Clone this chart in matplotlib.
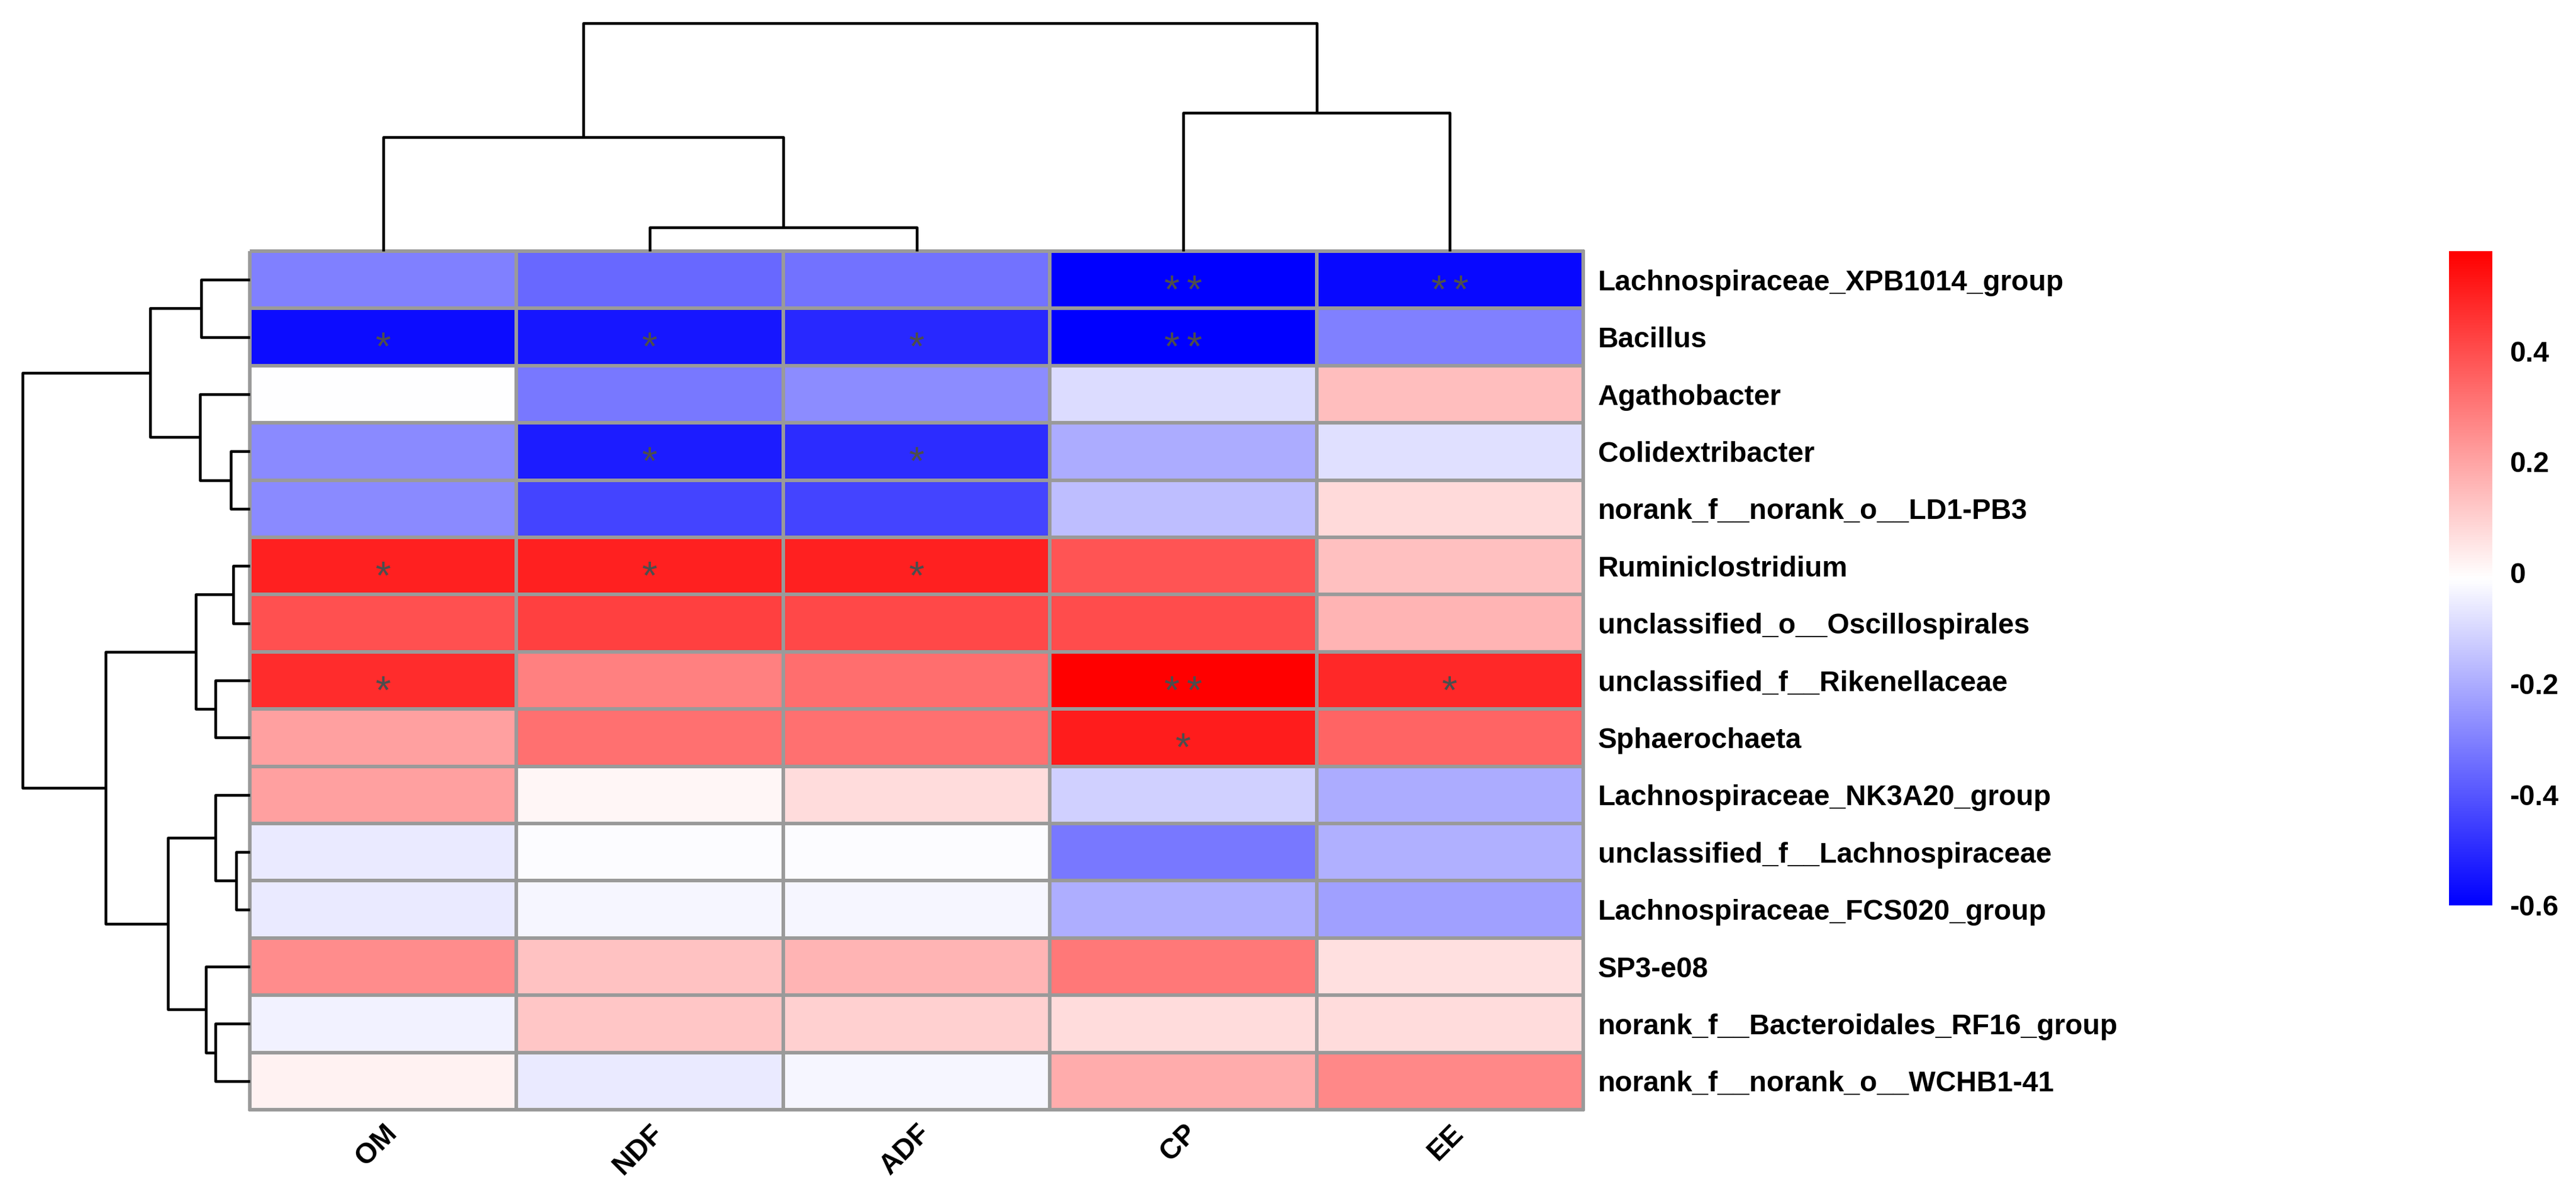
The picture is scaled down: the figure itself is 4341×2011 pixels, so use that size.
import numpy as np
import matplotlib
matplotlib.use('Agg')
import matplotlib.pyplot as plt
from matplotlib.colors import LinearSegmentedColormap, Normalize
from matplotlib.cm import ScalarMappable

plt.rcParams['font.family'] = ['Liberation Sans', 'DejaVu Sans']
plt.rcParams['font.weight'] = 'bold'

genera = ['Lachnospiraceae_XPB1014_group', 'Bacillus', 'Agathobacter',
          'Colidextribacter', 'norank_f__norank_o__LD1-PB3', 'Ruminiclostridium',
          'unclassified_o__Oscillospirales', 'unclassified_f__Rikenellaceae',
          'Sphaerochaeta', 'Lachnospiraceae_NK3A20_group',
          'unclassified_f__Lachnospiraceae', 'Lachnospiraceae_FCS020_group',
          'SP3-e08', 'norank_f__Bacteroidales_RF16_group', 'norank_f__norank_o__WCHB1-41']
nutrients = ['OM', 'NDF', 'ADF', 'CP', 'EE']

# correlation values, rows in genera order, cols in nutrients order
corr = [
    [-0.304, -0.359, -0.336, -0.600, -0.577],
    [-0.572, -0.549, -0.507, -0.600, -0.304],
    [-0.012, -0.322, -0.276, -0.091, 0.140],
    [-0.281, -0.535, -0.498, -0.202, -0.082],
    [-0.281, -0.443, -0.443, -0.160, 0.076],
    [0.506, 0.506, 0.506, 0.386, 0.136],
    [0.395, 0.432, 0.413, 0.404, 0.163],
    [0.478, 0.284, 0.325, 0.580, 0.487],
    [0.210, 0.321, 0.321, 0.515, 0.349],
    [0.210, 0.011, 0.071, -0.119, -0.202],
    [-0.058, -0.015, -0.015, -0.322, -0.193],
    [-0.058, -0.031, -0.031, -0.197, -0.230],
    [0.256, 0.131, 0.163, 0.302, 0.062],
    [-0.040, 0.122, 0.099, 0.071, 0.071],
    [0.020, -0.058, -0.031, 0.182, 0.265],
]
signif = [
    ['', '', '', '**', '**'],
    ['*', '*', '*', '**', ''],
    ['', '', '', '', ''],
    ['', '*', '*', '', ''],
    ['', '', '', '', ''],
    ['*', '*', '*', '', ''],
    ['', '', '', '', ''],
    ['*', '', '', '**', '*'],
    ['', '', '', '*', ''],
    ['', '', '', '', ''],
    ['', '', '', '', ''],
    ['', '', '', '', ''],
    ['', '', '', '', ''],
    ['', '', '', '', ''],
    ['', '', '', '', ''],
]

# dendrograms: [height, left, right], leaves are indices
row_tree = [383,
            [168, [82, 0, 1], [84, 2, [32, 3, 4]]],
            [243, [91, [28, 5, 6], [58, 7, 8]],
                  [138, [58, 9, [23, 10, 11]], [74, 12, [58, 13, 14]]]]]
col_tree = [384, [192, 0, [40, 1, 2]], [233, 3, 4]]

cbar_ticks = [0.4, 0.2, 0, -0.2, -0.4, -0.6]
cbar_labels = ['0.4', '0.2', '0', '-0.2', '-0.4', '-0.6']

data = np.array(corr)
vmin, vmax = -0.6, 0.58
cmap = LinearSegmentedColormap.from_list('bwr2', ['#0000FF', '#FFFFFF', '#FF0000'], N=256)
norm = Normalize(vmin=vmin, vmax=vmax)

W, H = 4341, 2011
fig = plt.figure(figsize=(W / 300, H / 300), dpi=300)

hl, hr, ht, hb = 421, 2668, 423, 1869
ax = fig.add_axes([hl / W, 1 - hb / H, (hr - hl) / W, (hb - ht) / H])
mesh = ax.pcolormesh(np.arange(len(nutrients) + 1), np.arange(len(genera) + 1), data,
                     cmap=cmap, norm=norm, edgecolors='#9A9A9A', linewidth=1.4)
mesh.set_clip_on(False)
ax.set_xlim(0, len(nutrients))
ax.set_ylim(len(genera), 0)
for s in ax.spines.values():
    s.set_visible(False)
ax.yaxis.tick_right()
ax.set_yticks(np.arange(len(genera)) + 0.5)
ax.set_yticklabels(genera, fontsize=11.5, fontweight='bold')
ax.set_xticks(np.arange(len(nutrients)) + 0.5)
ax.set_xticklabels(nutrients, fontsize=11.5, fontweight='bold', rotation=45,
                   ha='right', va='top', rotation_mode='anchor')
ax.tick_params(axis='y', length=0, pad=6)
ax.tick_params(axis='x', length=0, pad=4)

star_fs = 16
for i, row in enumerate(signif):
    for j, s in enumerate(row):
        n = len(s)
        for k in range(n):
            dx = (k - (n - 1) / 2) * 8.9
            ax.annotate('*', (j + 0.5, i + 0.5), xytext=(dx, -0.575 * star_fs),
                        textcoords='offset points', ha='center', va='baseline',
                        fontsize=star_fs, color='#4D4D4D', fontweight='normal')


def draw_tree(a, node, horizontal):
    if not isinstance(node, list):
        return node + 0.5, 0
    h, left, right = node
    p1, h1 = draw_tree(a, left, horizontal)
    p2, h2 = draw_tree(a, right, horizontal)
    ps = [p1, p1, p2, p2]
    hs = [h1, h, h, h2]
    if horizontal:
        a.plot(hs, ps, color='black', lw=1.1, solid_capstyle='butt', clip_on=False)
    else:
        a.plot(ps, hs, color='black', lw=1.1, solid_capstyle='butt', clip_on=False)
    return (p1 + p2) / 2, h


# column dendrogram
top_y = 39
axc = fig.add_axes([hl / W, 1 - ht / H, (hr - hl) / W, (ht - top_y) / H])
draw_tree(axc, col_tree, False)
axc.set_xlim(0, len(nutrients))
axc.set_ylim(0, col_tree[0])
axc.axis('off')

# row dendrogram
left_x = 38
axr = fig.add_axes([left_x / W, 1 - hb / H, (hl - left_x) / W, (hb - ht) / H])
draw_tree(axr, row_tree, True)
axr.set_ylim(len(genera), 0)
axr.set_xlim(row_tree[0], 0)
axr.axis('off')

# colorbar
cl, cr, ct, cb = 4127, 4200, 423, 1525
cax = fig.add_axes([cl / W, 1 - cb / H, (cr - cl) / W, (cb - ct) / H])
cbar = fig.colorbar(ScalarMappable(norm=norm, cmap=cmap), cax=cax)
cbar.outline.set_visible(False)
cbar.set_ticks(cbar_ticks)
cbar.set_ticklabels(cbar_labels)
cax.tick_params(length=0, pad=7, labelsize=11.5)
for t in cax.get_yticklabels():
    t.set_fontweight('bold')

fig.savefig('out.png', dpi=300, facecolor='white')
